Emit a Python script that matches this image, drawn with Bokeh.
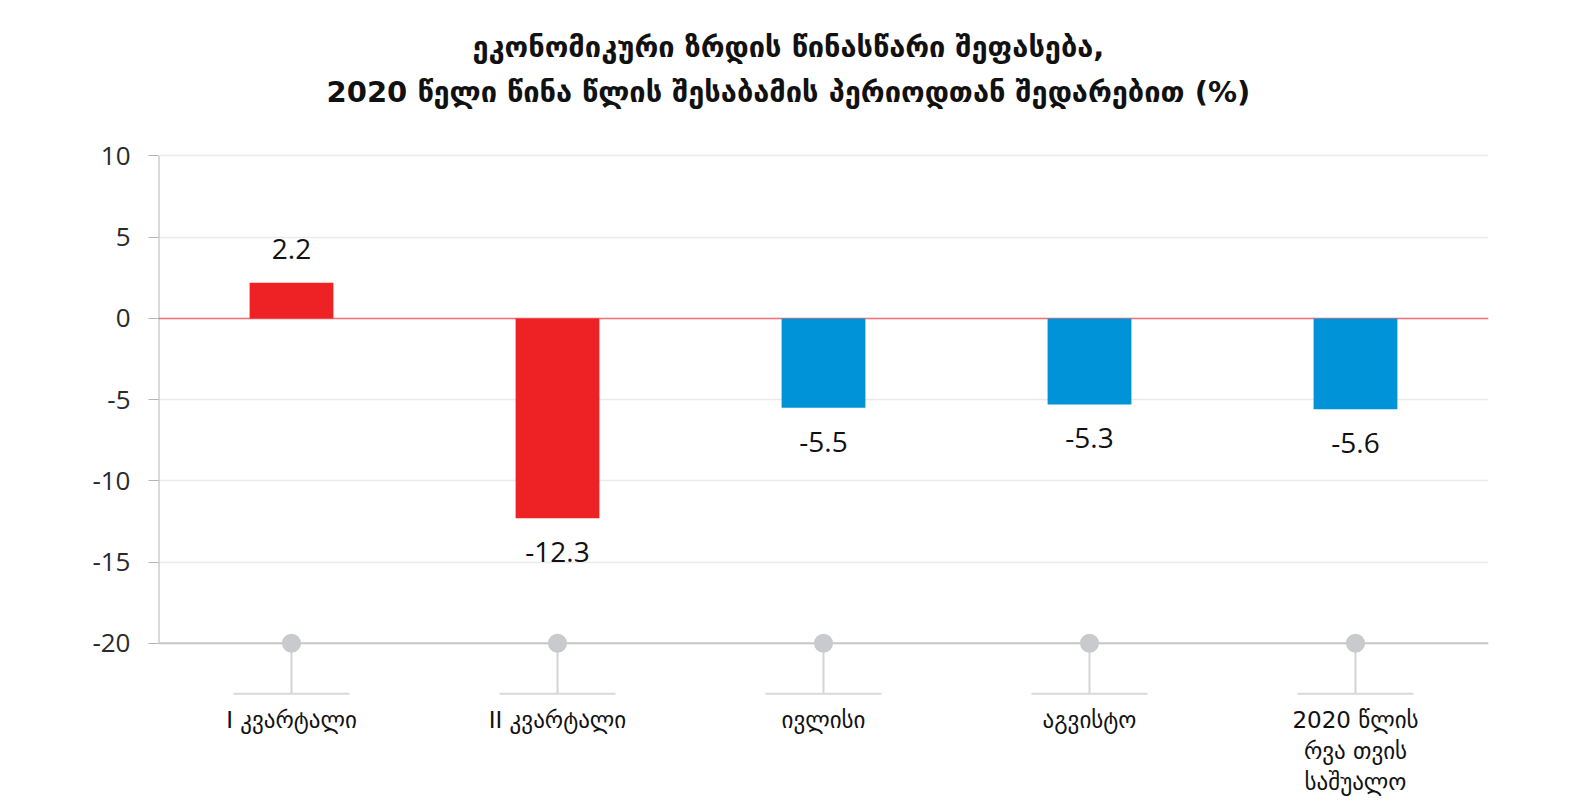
import numpy as np
from bokeh.plotting import figure
from bokeh.models import FixedTicker, ColumnDataSource
from bokeh.core.properties import value
from bokeh.embed import file_html
from bokeh.resources import INLINE

categories = ["I კვარტალი", "II კვარტალი", "ივლისი", "აგვისტო", "2020 წლის\nრვა თვის\nსაშუალო"]
values = [2.2, -12.3, -5.5, -5.3, -5.6]
colors = ["#ee2125", "#ee2125", "#0093d7", "#0093d7", "#0093d7"]
y_ticks = [-20, -15, -10, -5, 0, 5, 10]
title_lines = ["ეკონომიკური ზრდის წინასწარი შეფასება,",
               "2020 წელი წინა წლის შესაბამის პერიოდთან შედარებით (%)"]

n = len(categories)
x = np.arange(n) + 0.5
y_min_axis = min(y_ticks)
y_max_axis = max(y_ticks)
stem_end = -23.11
label_y = -23.9

src = ColumnDataSource(dict(
    x=x, v=values, c=colors, cat=categories,
    lab=["%.1f" % v for v in values],
    pos=[v if v >= 0 else np.nan for v in values],
    neg=[v if v < 0 else np.nan for v in values],
))

p = figure(width=1550, height=796, output_backend="svg", toolbar_location=None,
           x_range=(0, n), y_range=(-29.43, 19.26),
           min_border_left=158, min_border_right=62, min_border_bottom=0,
           min_border_top=5)
p.outline_line_color = None
p.xaxis.visible = False
p.xgrid.visible = False

yax = p.yaxis[0]
yax.ticker = FixedTicker(ticks=y_ticks)
yax.major_label_overrides = {t: str(t) for t in y_ticks}
yax.axis_line_color = None
yax.major_tick_line_color = "#b5b5b5"
yax.major_tick_out = 10
yax.major_tick_in = 0
yax.minor_tick_line_color = None
yax.major_label_text_font = "Open Sans"
yax.major_label_text_font_size = "26px"
yax.major_label_text_color = "#2a2a2a"
yax.major_label_standoff = 18

p.ygrid.ticker = FixedTicker(ticks=y_ticks)
p.ygrid.grid_line_color = "#ebebeb"
p.ygrid.grid_line_width = 1.5

# y axis line from -20 to 10
p.segment(x0=[0], y0=[y_min_axis], x1=[0], y1=[y_max_axis], line_color="#b5b5b5", line_width=2)
# bottom axis line at -20
p.segment(x0=[0], y0=[y_min_axis], x1=[n], y1=[y_min_axis], line_color="#c8c8c8", line_width=2)
# zero line
p.segment(x0=[0], y0=[0], x1=[n], y1=[0], line_color="#f2727a", line_width=1.5)

p.vbar(x="x", top="v", bottom=0, width=0.315, fill_color="c", line_color=None, source=src)

# stems and markers
p.segment(x0="x", y0=y_min_axis, x1="x", y1=stem_end, line_color="#d4d4d4", line_width=2, source=src)
p.segment(x0=x - 0.218, y0=[stem_end]*n, x1=x + 0.218, y1=[stem_end]*n,
          line_color="#d9d9d9", line_width=2)
p.scatter(x="x", y=y_min_axis, size=19, fill_color="#c9cacd", line_color=None, source=src)

p.text(x="x", y="pos", text="lab", source=src, text_align="center", text_baseline="bottom",
       y_offset=-24, text_font=value("Open Sans"), text_font_size="28px", text_color="#111111")
p.text(x="x", y="neg", text="lab", source=src, text_align="center", text_baseline="top",
       y_offset=24, text_font=value("Open Sans"), text_font_size="28px", text_color="#111111")

p.text(x="x", y=label_y, text="cat", source=src, text_align="center", text_baseline="top",
       text_font=value("DejaVu Sans"), text_font_size="23px", text_color="#111111",
       text_line_height=1.2)

# title
p.text(x=[2.368, 2.368], y=[16.68, 13.91], text=title_lines, text_align="center",
       text_baseline="middle", text_font=value("DejaVu Sans"), text_font_size="29px",
       text_font_style="bold", text_color="#111111")

open("out.html", "w").write(file_html(p, INLINE))
